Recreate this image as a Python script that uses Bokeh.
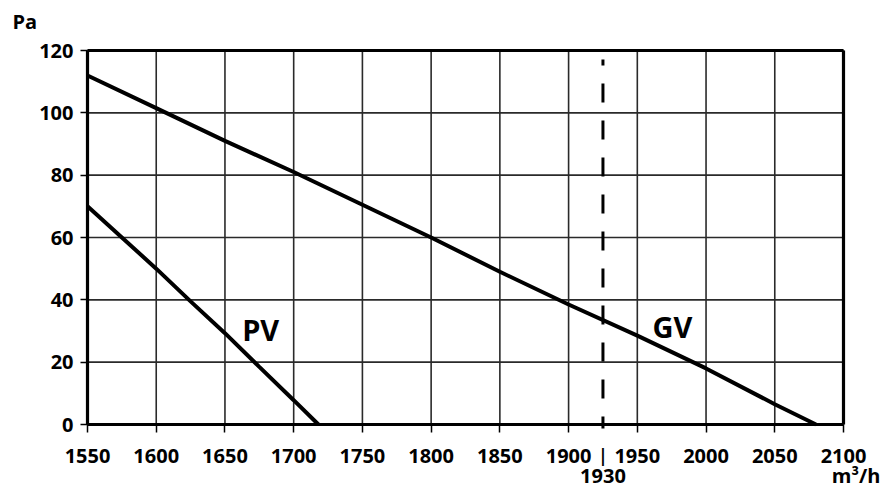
from bokeh.plotting import figure
from bokeh.models import Range1d, FixedTicker, Label, LinearAxis
from bokeh.embed import file_html
from bokeh.resources import INLINE

# data
x_ticks = [1550, 1600, 1650, 1700, 1750, 1800, 1850, 1900, 1950, 2000, 2050, 2100]
y_ticks = [0, 20, 40, 60, 80, 100, 120]

gv_x = [1550, 1600, 1650, 1700, 1750, 1800, 1850, 1900, 1950, 2000, 2050, 2080]
gv_y = [112, 101.5, 91, 81, 70.5, 60, 49, 38.5, 28.5, 18, 6.5, 0]

pv_x = [1550, 1575, 1600, 1625, 1650, 1675, 1700, 1718]
pv_y = [70, 60, 50, 39.5, 29.3, 18.5, 7.8, 0]

marker_x = 1925
marker_label = "1930"
marker_top = 117.1

FONT = "Open Sans"
X0, X1 = x_ticks[0], x_ticks[-1]
Y0, Y1 = y_ticks[0], y_ticks[-1]

# frame spans the whole canvas; axes are pinned at the chart's edges
W, H = 887, 490
L, R, T, B = 87, 843, 50, 424
sx = (R - L) / (X1 - X0)
sy = (B - T) / (Y1 - Y0)
xr = Range1d(X0 - L / sx, X1 + (W - R) / sx)
yr = Range1d(Y0 - (H - B) / sy, Y1 + T / sy)

p = figure(width=W, height=H, x_range=xr, y_range=yr, output_backend="svg",
           toolbar_location=None, title_location=None, min_border=0)
p.background_fill_color = "white"
p.border_fill_color = "white"
p.outline_line_color = None
p.xgrid.visible = False
p.ygrid.visible = False

# grid lines
p.segment(x0=x_ticks, y0=[Y0] * len(x_ticks), x1=x_ticks, y1=[Y1] * len(x_ticks),
          line_color="#2a2a2a", line_width=1.6)
p.segment(x0=[X0] * len(y_ticks), y0=y_ticks, x1=[X1] * len(y_ticks), y1=y_ticks,
          line_color="#2a2a2a", line_width=1.6)

xa = p.xaxis[0]
ya = p.yaxis[0]
xa.fixed_location = Y0
ya.fixed_location = X0
xa.bounds = (X0, X1)
ya.bounds = (Y0, Y1)
xa.ticker = FixedTicker(ticks=x_ticks)
ya.ticker = FixedTicker(ticks=y_ticks)
for ax in (xa, ya):
    ax.axis_line_width = 3.2
    ax.axis_line_color = "black"
    ax.major_tick_line_color = "black"
    ax.major_tick_line_width = 1.5
    ax.major_tick_in = 0
    ax.minor_tick_line_color = None
    ax.major_label_text_font = FONT
    ax.major_label_text_font_style = "bold"
    ax.major_label_text_font_size = "20px"
    ax.major_label_text_color = "black"
xa.major_tick_out = 8
ya.major_tick_out = 7
xa.major_label_standoff = 16
ya.major_label_standoff = 7

# top and right frame edges
top_ax = LinearAxis(fixed_location=Y1, bounds=(X0, X1), ticker=FixedTicker(ticks=[]),
                    axis_line_width=3.2, axis_line_color="black",
                    major_tick_line_color=None, minor_tick_line_color=None)
right_ax = LinearAxis(fixed_location=X1, bounds=(Y0, Y1), ticker=FixedTicker(ticks=[]),
                      axis_line_width=3.2, axis_line_color="black",
                      major_tick_line_color=None, minor_tick_line_color=None)
p.add_layout(top_ax, "above")
p.add_layout(right_ax, "right")

p.line(gv_x, gv_y, line_color="black", line_width=4)
p.line(pv_x, pv_y, line_color="black", line_width=4)

p.segment(x0=[marker_x], y0=[marker_top], x1=[marker_x], y1=[-1.3],
          line_color="black", line_width=3, line_dash="19 18", line_dash_offset=13)

def lab(text, x, y, size, align="center", baseline="alphabetic"):
    p.add_layout(Label(x=x, y=y, text=text, text_font=FONT, text_font_style="bold",
                       text_font_size=size, text_color="black",
                       text_align=align, text_baseline=baseline))

lab("PV", 1676, 30.6, "29px")
lab("GV", 1975.6, 31.6, "29px")
lab("Pa", 1495.4, 129.3, "20px", align="left")
lab("|", marker_x, -9.8, "17px", baseline="middle")
lab(marker_label, marker_x, -16.4, "20px")
lab("m³/h", 2126.9, -16.3, "20px", align="right")

open("out.html", "w").write(file_html(p, INLINE))
